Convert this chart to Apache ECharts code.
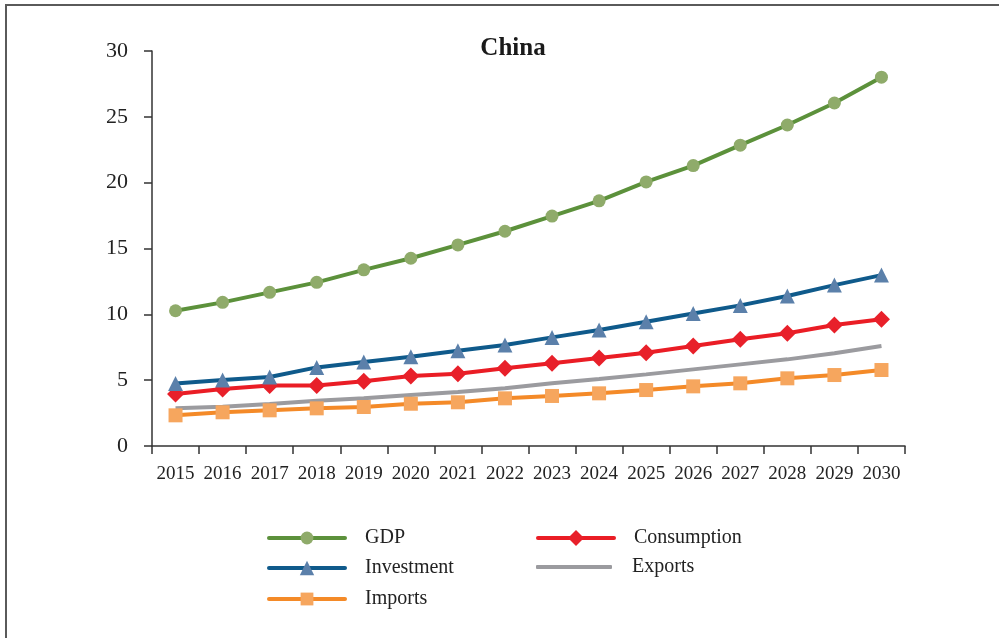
<!DOCTYPE html>
<html>
<head>
<meta charset="utf-8">
<script src="https://cdn.jsdelivr.net/npm/echarts@6/dist/echarts.min.js"></script>
<style>
html,body{margin:0;padding:0;background:#fff;}
#c{width:999px;height:638px;}
</style>
</head>
<body>
<div id="c"></div>
<script>
const years = ['2015','2016','2017','2018','2019','2020','2021','2022','2023','2024','2025','2026','2027','2028','2029','2030'];
const gdp = [10.27,10.91,11.67,12.43,13.38,14.26,15.27,16.31,17.46,18.62,20.06,21.3,22.85,24.38,26.05,28.01];
const investment = [4.75,5.02,5.24,5.97,6.38,6.78,7.24,7.67,8.25,8.81,9.44,10.07,10.68,11.39,12.22,12.98];
const consumption = [3.95,4.33,4.6,4.6,4.91,5.31,5.49,5.9,6.28,6.68,7.09,7.59,8.1,8.56,9.19,9.62];
const exportsData = [2.86,2.99,3.19,3.44,3.62,3.87,4.1,4.38,4.76,5.09,5.44,5.82,6.2,6.58,7.04,7.59];
const imports = [2.33,2.56,2.71,2.86,2.96,3.21,3.32,3.62,3.8,4.0,4.25,4.53,4.76,5.14,5.39,5.77];
const yTicks = [0,5,10,15,20,25,30];

const serif = '"Liberation Serif", "DejaVu Serif", serif';
const chart = echarts.init(document.getElementById('c'));

function mk(name, data, lineColor, markColor, symbol, size) {
  return {
    name: name, type: 'line', data: data,
    symbol: symbol === 'none' ? 'circle' : symbol, symbolSize: size, showSymbol: symbol !== 'none',
    lineStyle: {color: lineColor, width: 4},
    itemStyle: {color: markColor},
    emphasis: {disabled: true},
    animation: false, z: 3
  };
}

const legText = {fontFamily: serif, fontSize: 20, color: '#222', padding: [0,0,0,15]};
function leg(name, left, top, extra) {
  return Object.assign({
    data: [name], left: left, top: top, orient: 'horizontal', padding: 0,
    itemWidth: 76, itemHeight: 16, itemGap: 0,
    lineStyle: {width: 4, cap: 'round'},
    textStyle: legText,
    selectedMode: false
  }, extra || {});
}

chart.setOption({
  animation: false,
  backgroundColor: '#fff',
  title: {
    text: 'China', left: 508, top: 31, textAlign: 'center',
    textStyle: {fontFamily: serif, fontSize: 25, fontWeight: 'bold', color: '#1a1a1a'}
  },
  graphic: [{
    type: 'rect', silent: true,
    shape: {x: 6, y: 5, width: 1200, height: 1000},
    style: {fill: 'none', stroke: '#5a5a5a', lineWidth: 2}
  }],
  grid: {left: 152, right: 94, top: 51, bottom: 192, containLabel: false},
  legend: [
    leg('GDP', 267, 528),
    leg('Consumption', 536, 528, {itemHeight: 20}),
    leg('Investment', 267, 558, {itemHeight: 18}),
    leg('Exports', 536, 557, {data: [{name: 'Exports', icon: 'roundRect'}], itemHeight: 4}),
    leg('Imports', 267, 589)
  ],
  xAxis: {
    type: 'category', data: years, boundaryGap: true,
    axisLine: {lineStyle: {color: '#333', width: 1.5}},
    axisTick: {show: true, length: 8, lineStyle: {color: '#333', width: 1.5}},
    axisLabel: {fontFamily: serif, fontSize: 19, color: '#222', margin: 19, interval: 0},
    splitLine: {show: false}
  },
  yAxis: {
    type: 'value', min: 0, max: 30, interval: 5,
    axisLine: {show: true, lineStyle: {color: '#333', width: 1.5}},
    axisTick: {show: true, length: 8, lineStyle: {color: '#333', width: 1.5}},
    axisLabel: {fontFamily: serif, fontSize: 22, color: '#222', margin: 24,
      formatter: v => yTicks.indexOf(v) >= 0 ? String(v) : ''},
    splitLine: {show: false}
  },
  series: [
    mk('GDP', gdp, '#5c913b', '#8fab6a', 'circle', 13),
    mk('Consumption', consumption, '#ea1d25', '#e8202a', 'diamond', 17),
    mk('Investment', investment, '#0f5a8b', '#5b80aa', 'triangle', 15),
    mk('Exports', exportsData, '#9b9b9f', '#9b9b9f', 'none', 0),
    mk('Imports', imports, '#f48a28', '#f6a65e', 'rect', 14)
  ]
});
</script>
</body>
</html>
